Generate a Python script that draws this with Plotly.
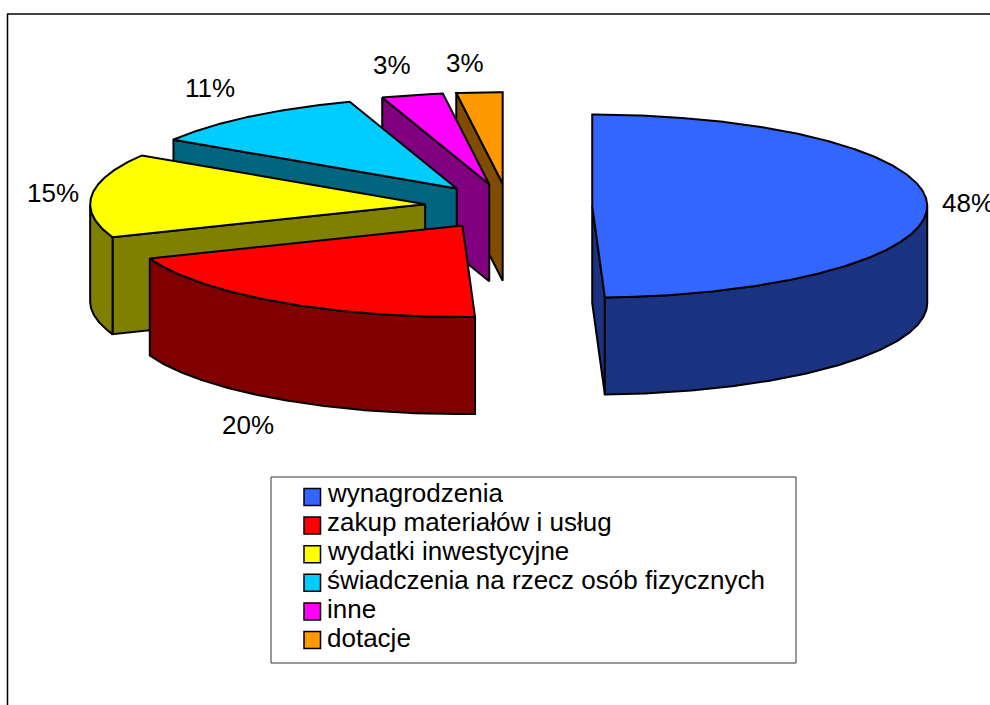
import math
import plotly.graph_objects as go

# data
categories = ["wynagrodzenia", "zakup materiałów i usług", "wydatki inwestycyjne",
              "świadczenia na rzecz osób fizycznych", "inne", "dotacje"]
shares = [48, 20, 15, 11, 3, 3]

top_colors = ["#3366FF", "#FF0000", "#FFFF00", "#00CCFF", "#FF00FF", "#FF9900"]
side_colors = ["#1A3380", "#800000", "#808000", "#006680", "#800080", "#804D00"]

# pie layout, in page pixels
cx, cy = 508.5, 206.5
rx, ry = 335, 91.5
depth = 97
explode = 0.25
label_xy = [(941, 203), (221, 425), (26, 193), (184, 88), (372, 65), (445, 63)]


def warp(t):
    # the original's perspective pushes the inner slice edges on by a few degrees
    return t + 7.2 - 0.0125 * t if 0 < t < 359.9 else t


def pt(ax, ay, t):
    r = math.radians(t)
    return ax + rx * math.sin(r), ay - ry * math.cos(r)


def add_poly(fig, pts, color):
    fig.add_trace(go.Scatter(x=[p[0] for p in pts] + [pts[0][0]],
                             y=[p[1] for p in pts] + [pts[0][1]],
                             mode="lines", fill="toself", fillcolor=color,
                             line=dict(color="black", width=2),
                             hoverinfo="skip", showlegend=False))


def extrude(a, b):
    return [a, b, (b[0], b[1] + depth), (a[0], a[1] + depth)]


fig = go.Figure()

total = sum(shares)
bounds = [0]
for s in shares:
    bounds.append(bounds[-1] + s / total * 360)

# back slices first, blue goes on top
for i in reversed(range(len(shares))):
    t0, t1 = warp(bounds[i]), warp(bounds[i + 1])
    mid = math.radians((t0 + t1) / 2)
    ax = cx + explode * rx * math.sin(mid)
    ay = cy - explode * ry * math.cos(mid)
    n = max(2, int((t1 - t0) * 2))
    angles = [t0 + (t1 - t0) * k / n for k in range(n + 1)]
    rim = [pt(ax, ay, t) for t in angles]
    apex = (ax, ay)

    # side faces, only the ones turned towards the viewer
    if rim[0][0] < ax - 0.5:
        add_poly(fig, extrude(apex, rim[0]), side_colors[i])
    if rim[-1][0] > ax + 0.5:
        add_poly(fig, extrude(rim[-1], apex), side_colors[i])
    front = [p for t, p in zip(angles, rim) if 90 <= t <= 270]
    if len(front) > 1:
        add_poly(fig, front + [(p[0], p[1] + depth) for p in reversed(front)], side_colors[i])
    add_poly(fig, [apex] + rim, top_colors[i])

annotations = []
for s, (lx, ly) in zip(shares, label_xy):
    annotations.append(dict(x=lx, y=ly, text=str(s) + "%", showarrow=False, xanchor="left",
                            yanchor="middle", xshift=-1, font=dict(size=26, color="black")))

# legend box, drawn by hand to get the original's wide frame
shapes = [
    dict(type="line", x0=7.5, x1=7.5, y0=14, y1=705, line=dict(color="black", width=1.5)),
    dict(type="line", x0=7, x1=990, y0=14, y1=14, line=dict(color="black", width=1.5)),
    dict(type="rect", x0=271, x1=796, y0=477, y1=663, fillcolor="white",
         line=dict(color="#333333", width=1)),
]
for i, name in enumerate(categories):
    y = 497 + i * 28.6
    shapes.append(dict(type="rect", x0=304, x1=320.5, y0=y - 8.5, y1=y + 8.5, fillcolor=top_colors[i],
                       line=dict(color="black", width=1.5)))
    annotations.append(dict(x=325, y=492.5 + i * 29.1, text=name, showarrow=False, xanchor="left",
                            yanchor="middle", font=dict(size=26, color="black")))

fig.update_layout(width=990, height=705, margin=dict(l=0, r=0, t=0, b=0),
                  paper_bgcolor="white", plot_bgcolor="white", showlegend=False,
                  font=dict(family="Liberation Sans"),
                  xaxis=dict(range=[0, 990], visible=False, fixedrange=True),
                  yaxis=dict(range=[705, 0], visible=False, fixedrange=True),
                  shapes=shapes, annotations=annotations)

fig.write_html("out.html", config=dict(displayModeBar=False),
               post_script="document.body.style.margin='0';")
